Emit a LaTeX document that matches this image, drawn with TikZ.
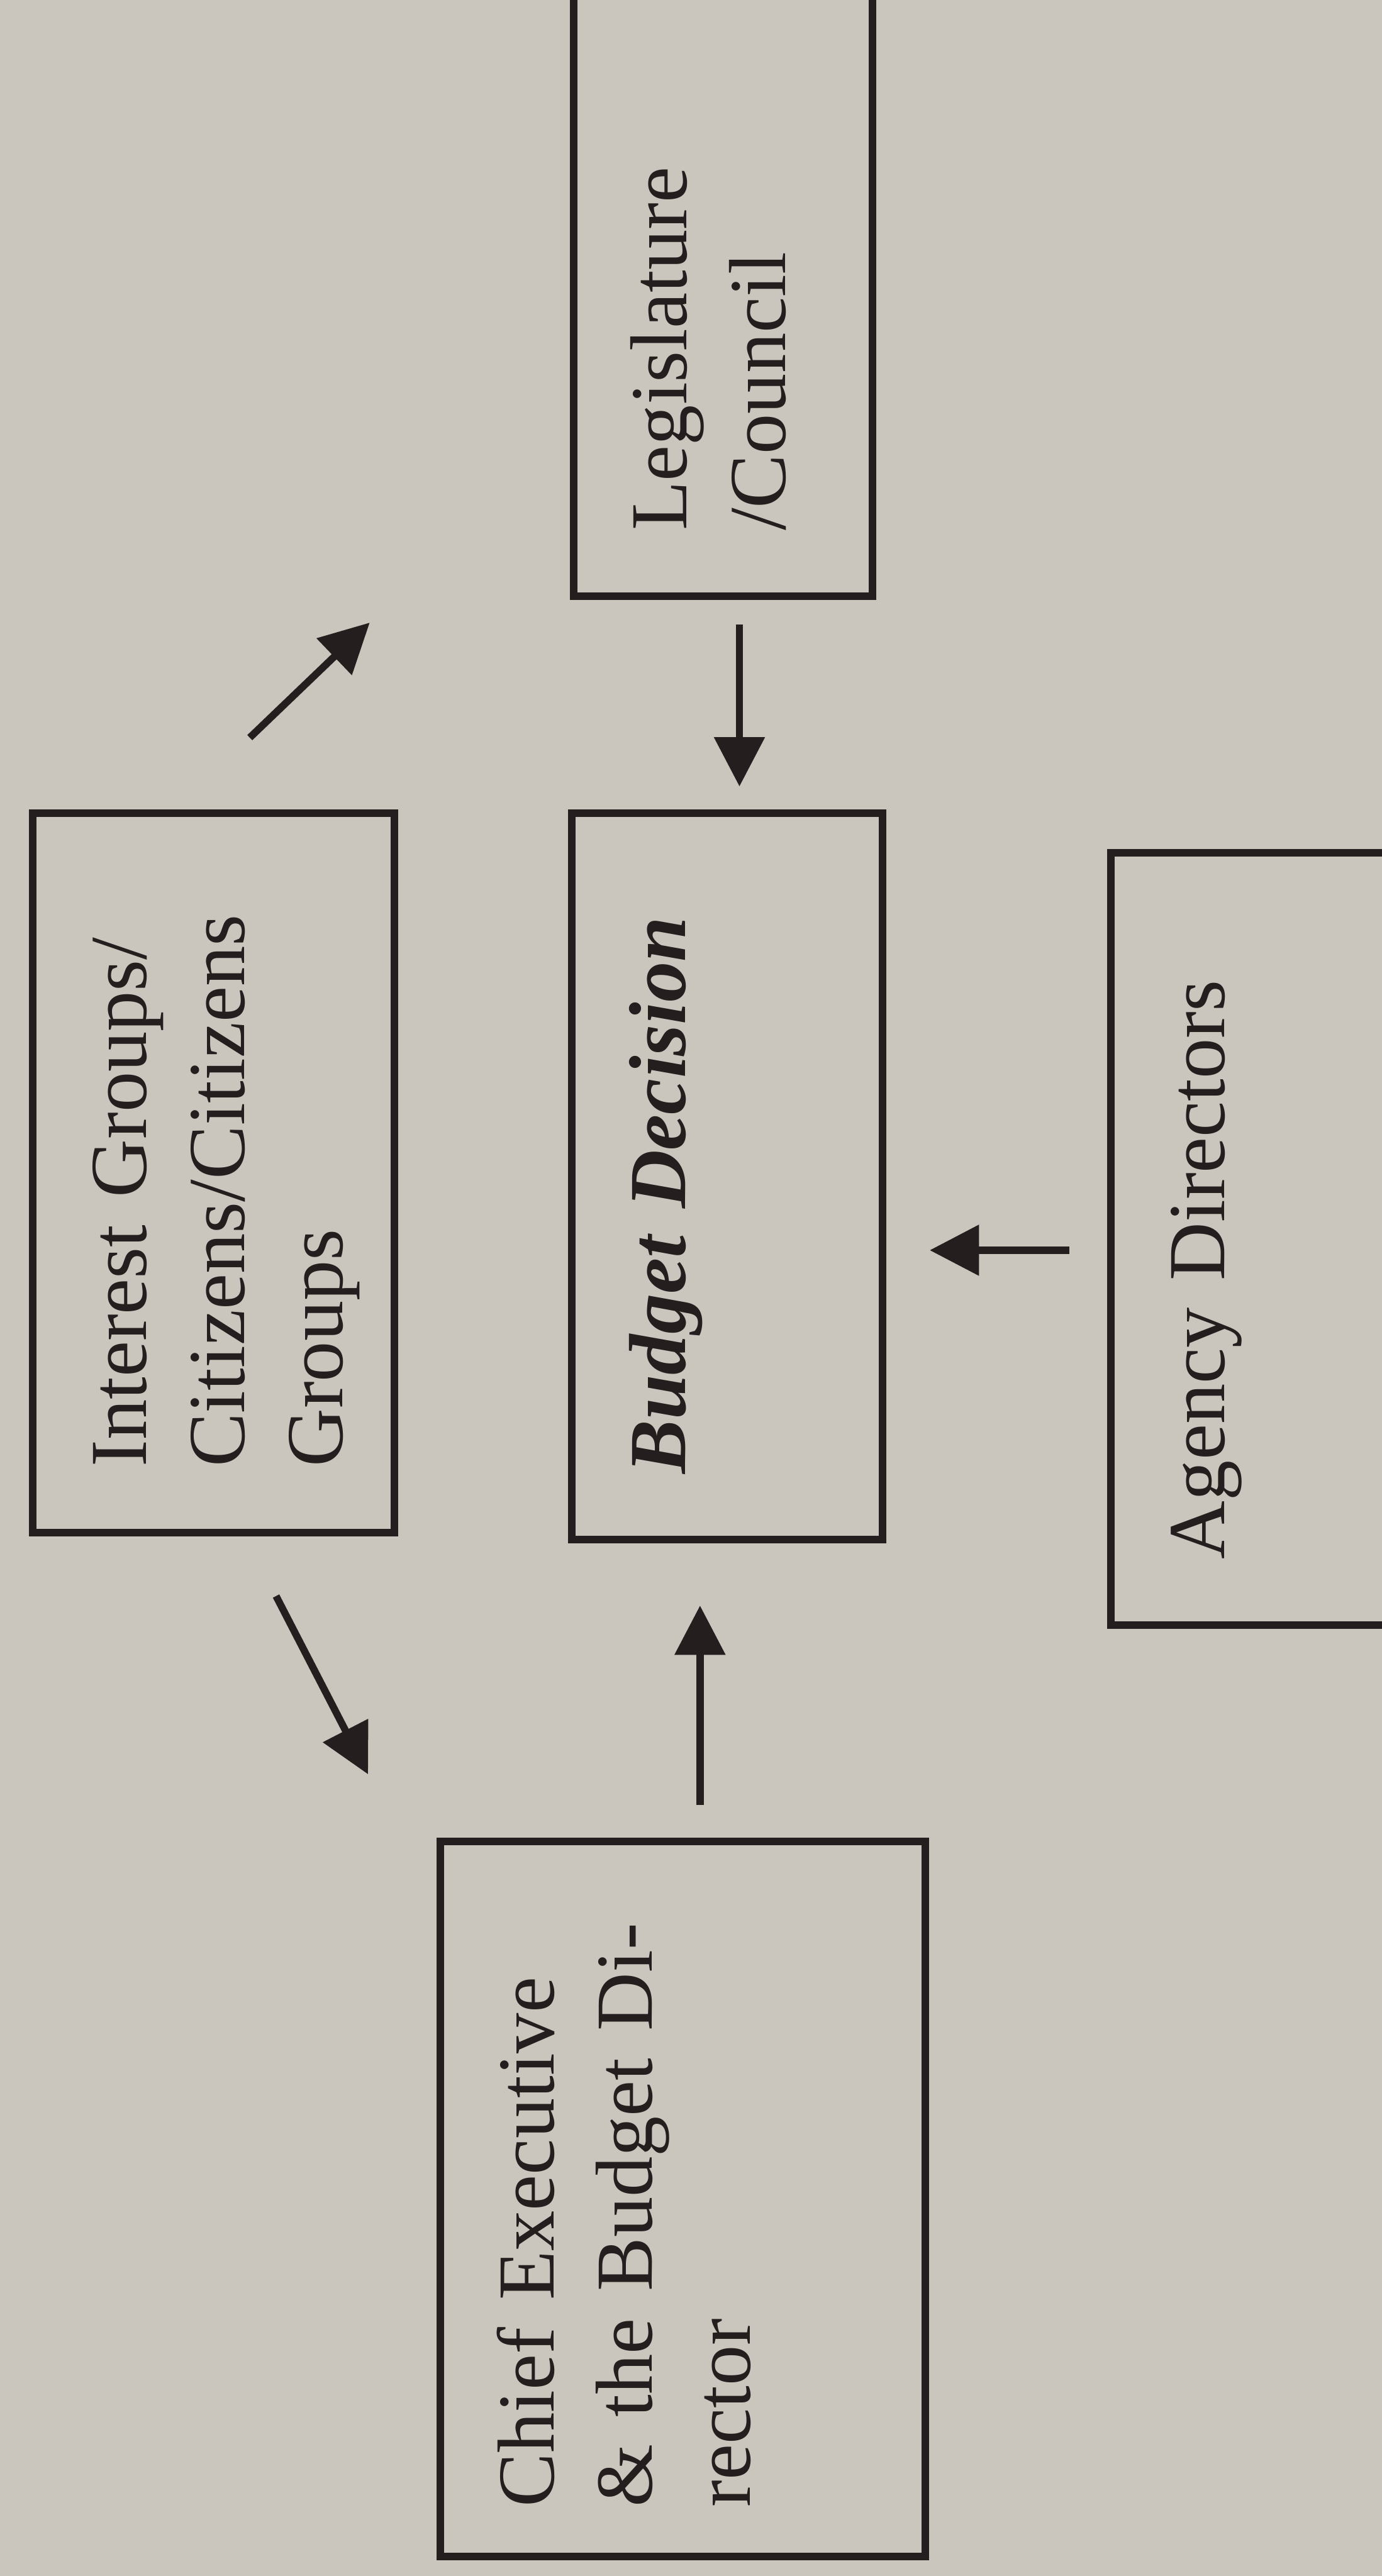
\documentclass[tikz,border=0pt]{standalone}
\usepackage{fontspec}
\setmainfont{Liberation Serif}
\usepackage{xcolor}
\usepackage{tikz}
\usetikzlibrary{arrows.meta,positioning}
\definecolor{paper}{RGB}{202,198,190}
\definecolor{ink}{RGB}{36,30,30}

\begin{document}
\begin{tikzpicture}[
    actorbox/.style={
        draw=ink, line width=1.3pt, rotate=90, align=left,
        font=\fontsize{14}{17}\selectfont, text=ink,
        inner xsep=0.4cm, inner ysep=0.36cm, text height=0.33cm
    },
    arr/.style={-{Triangle[length=3mm, width=3mm]}, line width=1.25pt, ink}
]
    \useasboundingbox (0,0) rectangle (8.41,-15.68);
    \fill[paper] (0,0) rectangle (8.41,-15.68);
    \clip (0,0) rectangle (8.41,-15.68);

    % Boxes (turned a quarter, read from bottom to top)
    \node[actorbox, text width=3.6cm, text depth=0.77cm] (legis) at (4.40,-1.43)
        {Legislature\\/Council};
    \node[actorbox, text width=3.58cm, text depth=1.15cm] (interest) at (1.30,-7.14)
        {Interest Groups/\\Citizens/Citizens\\Groups};
    \node[actorbox, text width=3.62cm, text depth=0.84cm] (budget) at (4.425,-7.16)
        {\bfseries\itshape Budget Decision};
    \node[actorbox, text width=3.9cm, text depth=1.45cm] (agency) at (8.01,-7.54)
        {Agency Directors};
    \node[actorbox, inner xsep=0.3cm, text width=3.75cm, text depth=1.90cm] (chief) at (4.155,-13.385)
        {Chief Executive\\\& the Budget Di-\\rector};

    % Free ends of the slanted arrows
    \coordinate (igtail) at (1.52,-4.49);
    \coordinate (igtip)  at (2.25,-3.79);
    \coordinate (cetail) at (1.68,-9.715);
    \coordinate (cetip)  at (2.24,-10.80);

    % Arrows into the decision
    \draw[arr, shorten <=0.20cm, shorten >=0.38cm] (4.26,0 |- chief.east) -- (4.26,0 |- budget.west);
    \draw[arr, shorten <=0.15cm, shorten >=0.14cm] (4.50,0 |- legis.west) -- (4.50,0 |- budget.east);
    \draw[arr, shorten <=0.23cm, shorten >=0.265cm] (agency.north |- 0,-7.61) -- (budget.south |- 0,-7.61);

    % Slanted arrows
    \draw[arr] (igtail) -- (igtip);
    \draw[arr] (cetail) -- (cetip);
\end{tikzpicture}
\end{document}
